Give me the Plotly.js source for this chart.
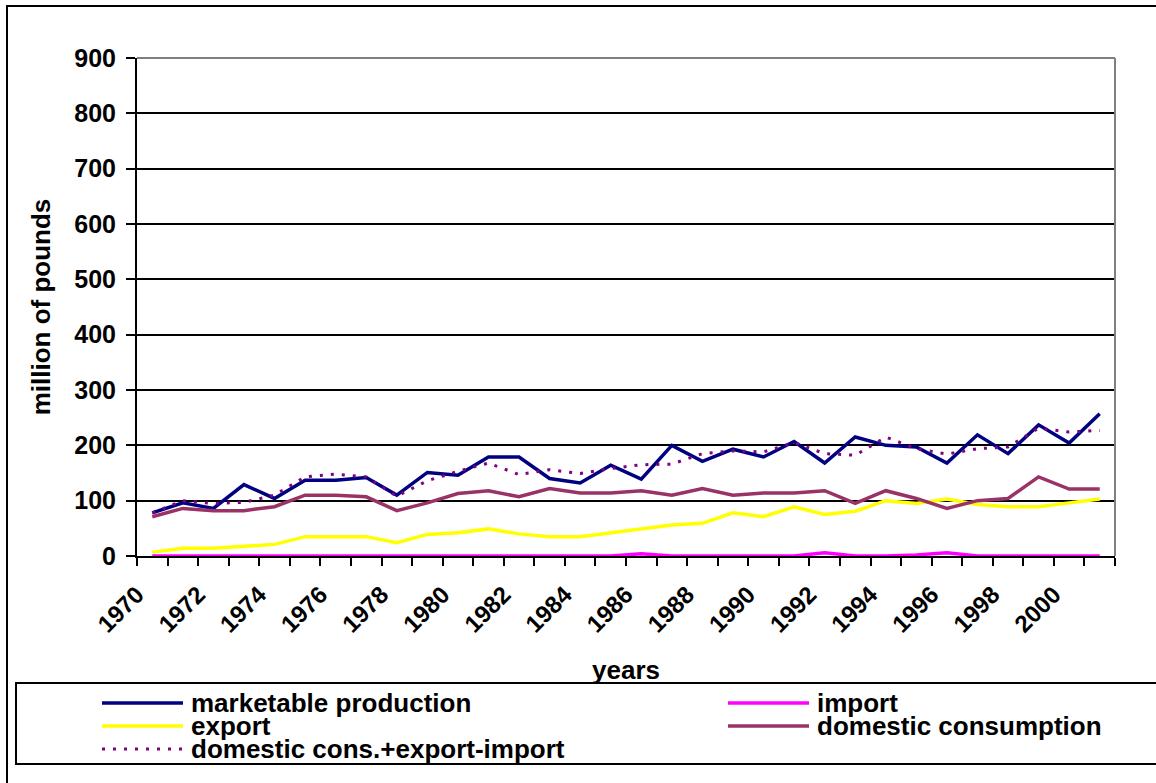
<!DOCTYPE html>
<html>
<head>
<meta charset="utf-8">
<script src="https://cdn.plot.ly/plotly-3.0.1.min.js"></script>
<style>
  html, body { margin: 0; padding: 0; background: #fff; }
  #chart { width: 1156px; height: 783px; }
</style>
</head>
<body>
<div id="chart"></div>
<script>
// ---------------- data ----------------
const years = [1970,1971,1972,1973,1974,1975,1976,1977,1978,1979,1980,1981,1982,1983,1984,1985,
               1986,1987,1988,1989,1990,1991,1992,1993,1994,1995,1996,1997,1998,1999,2000,2001];

const marketableProduction = [78,96,86,129,104,137,137,142,110,151,146,179,179,140,132,164,
                              139,200,171,193,179,207,168,215,200,197,168,219,185,237,204,257];

const importValues = [0,0,0,0,0,0,0,0,0,0,0,0,0,0,0,0,
                      4,0,0,0,0,0,6,0,0,2,6,0,0,0,0,0];

const exportValues = [7,14,14,17,21,35,35,35,24,39,42,49,40,35,35,42,
                      49,56,59,78,71,89,75,81,100,95,103,93,89,89,96,103];

const domesticConsumption = [71,86,82,82,89,110,110,107,82,96,113,118,107,122,114,114,
                             118,110,122,110,114,114,118,95,118,104,86,100,104,143,121,121];

const domConsExportImport = [78,100,95,97,110,143,148,143,108,136,153,168,147,156,149,158,
                             165,166,185,190,188,205,185,182,215,194,184,194,197,231,224,227];

const seriesNames = ['marketable production','import','export','domestic consumption','domestic cons.+export-import'];

const xTickLabels = ['1970','1972','1974','1976','1978','1980','1982','1984',
                     '1986','1988','1990','1992','1994','1996','1998','2000'];

// ---------------- layout helpers ----------------
const W = 1156, H = 783;
const L = 137, R = 1115, T = 58, B = 556;
const px = x => (x - L) / (R - L);
const py = y => (B - y) / (B - T);
const FONT = 'Liberation Sans, Arial, Helvetica, sans-serif';

const styles = [
  {color: '#000080', width: 3.5, dash: 'solid'},
  {color: '#FF00FF', width: 3.5, dash: 'solid'},
  {color: '#FFFF00', width: 3.5, dash: 'solid'},
  {color: '#993366', width: 3.5, dash: 'solid'},
  {color: '#800080', width: 3,   dash: '3px,8px'}
];
const seriesData = [marketableProduction, importValues, exportValues, domesticConsumption, domConsExportImport];

const traces = seriesData.map((vals, i) => ({
  type: 'scatter',
  mode: 'lines',
  name: seriesNames[i],
  x: years,
  y: vals,
  line: {color: styles[i].color, width: styles[i].width, dash: styles[i].dash},
  cliponaxis: false,
  showlegend: false,
  hoverinfo: 'x+y+name'
}));

// manual legend (Excel-style compact legend box)
const legendSlots = [[0,0],[1,0],[0,1],[1,1],[0,2]]; // [col,row] per series
const colX = [102, 728];
const rowY = [703, 726, 749];
const shapes = [];
const annotations = [];

// outer chart frame (left + top edge visible)
shapes.push({type:'line', xref:'paper', yref:'paper', x0:px(7), x1:px(7), y0:py(6), y1:py(800),
             line:{color:'#000', width:2}});
shapes.push({type:'line', xref:'paper', yref:'paper', x0:px(6), x1:px(1170), y0:py(6), y1:py(6),
             line:{color:'#000', width:2}});
// plot area top/right border (grey)
shapes.push({type:'line', xref:'paper', yref:'paper', x0:0, x1:1, y0:1, y1:1,
             line:{color:'#808080', width:2}, layer:'above'});
shapes.push({type:'line', xref:'paper', yref:'paper', x0:1, x1:1, y0:0, y1:1,
             line:{color:'#808080', width:2}, layer:'above'});
// legend box
shapes.push({type:'rect', xref:'paper', yref:'paper', x0:px(16), x1:px(1170), y0:py(683), y1:py(764),
             line:{color:'#000', width:2}, fillcolor:'rgba(0,0,0,0)'});

seriesNames.forEach((name, i) => {
  const [c, r] = legendSlots[i];
  const x0 = colX[c], yy = rowY[r];
  shapes.push({type:'line', xref:'paper', yref:'paper', x0:px(x0), x1:px(x0 + 81), y0:py(yy), y1:py(yy),
               line:{color: styles[i].color, width: styles[i].width, dash: styles[i].dash}});
  annotations.push({xref:'paper', yref:'paper', x:px(x0 + 87), y:py(yy), xanchor:'left', yanchor:'middle',
                    text: name, showarrow:false,
                    font:{family:FONT, size:26, weight:'bold', color:'#000'}});
});

const layout = {
  width: W, height: H,
  margin: {l: L, r: W - R, t: T, b: H - B, pad: 0},
  paper_bgcolor: '#fff',
  plot_bgcolor: '#fff',
  showlegend: false,
  font: {family: FONT, color: '#000'},
  xaxis: {
    type: 'linear',
    range: [1969.5, 2001.5],
    tickmode: 'array',
    // Excel-style: rotated label ends sit at the category boundary left of each year
    tickvals: xTickLabels.map(t => Number(t) - 0.5),
    ticktext: xTickLabels,
    ticks: '',
    tickangle: -45,
    tickfont: {family: FONT, size: 24, weight: 'bold', color: '#000'},
    ticklabelstandoff: 13,
    showgrid: false,
    zeroline: false,
    showline: true,
    linecolor: '#000',
    linewidth: 2,
    layer: 'below traces',
    minor: {tickmode: 'linear', tick0: 1969.5, dtick: 1, ticks: 'outside', ticklen: 8, tickwidth: 2,
            tickcolor: '#000', showgrid: false},
    title: {text: 'years', font: {family: FONT, size: 26, weight: 'bold', color: '#000'}, standoff: 24},
    fixedrange: true
  },
  yaxis: {
    range: [0, 900],
    tickmode: 'linear',
    tick0: 0,
    dtick: 100,
    ticks: 'outside',
    ticklen: 9,
    tickwidth: 2,
    tickcolor: '#000',
    tickfont: {family: FONT, size: 25, weight: 'bold', color: '#000'},
    ticklabelstandoff: 5,
    showgrid: true,
    gridcolor: '#000',
    gridwidth: 2,
    zeroline: false,
    showline: true,
    linecolor: '#000',
    linewidth: 2,
    layer: 'below traces',
    title: {text: 'million of pounds', font: {family: FONT, size: 26, weight: 'bold', color: '#000'}, standoff: 16},
    fixedrange: true
  },
  shapes: shapes,
  annotations: annotations
};

Plotly.newPlot('chart', traces, layout, {displayModeBar: false, staticPlot: true});
</script>
</body>
</html>
